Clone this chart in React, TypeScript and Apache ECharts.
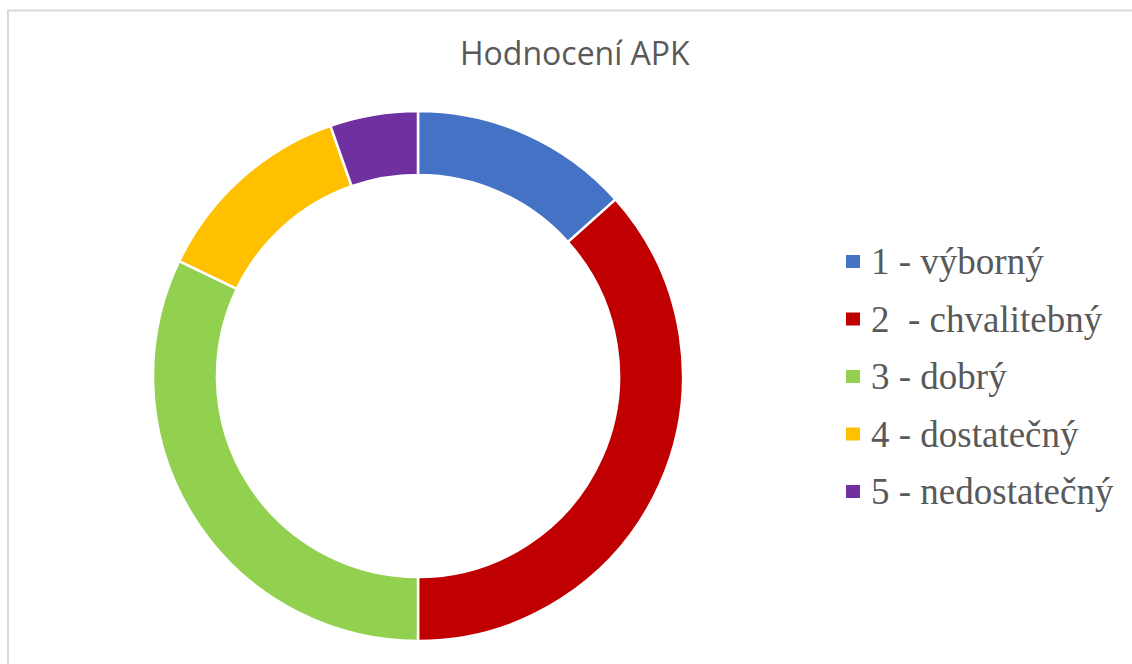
import React, { useEffect, useRef } from "react";
import * as echarts from "echarts";

const titleText = "Hodnocení APK";
const categories = ["1 - výborný", "2  - chvalitebný", "3 - dobrý", "4 - dostatečný", "5 - nedostatečný"];
const values = [15, 41, 36, 14, 6];
const colors = ["#4472C4", "#C00000", "#92D050", "#FFC000", "#7030A0"];

export default function App() {
  const ref = useRef<HTMLDivElement>(null);
  useEffect(() => {
    if (!ref.current) return;
    const chart = echarts.init(ref.current, undefined, { renderer: "svg" });
    chart.setOption({
      animation: false,
      backgroundColor: "#ffffff",
      title: {
        text: titleText,
        left: 455,
        top: 31,
        textStyle: {
          fontFamily: "Open Sans",
          fontSize: 32,
          fontWeight: "normal",
          color: "#595959",
        },
      },
      legend: {
        orient: "vertical",
        left: 839,
        top: 238,
        icon: "rect",
        itemWidth: 16,
        itemHeight: 15,
        itemGap: 20.5,
        selectedMode: false,
        data: categories,
        textStyle: {
          fontFamily: "Liberation Serif",
          fontSize: 37,
          lineHeight: 36,
          color: "#595959",
          padding: [0, 0, 0, 5],
        },
      },
      graphic: [
        {
          type: "rect",
          shape: { x: 8, y: 10.5, width: 1200, height: 800 },
          style: { fill: "none", stroke: "#d9d9d9", lineWidth: 2 },
          silent: true,
        },
      ],
      series: [
        {
          type: "pie",
          center: [418, 376],
          radius: [201, 265],
          startAngle: 90,
          clockwise: true,
          avoidLabelOverlap: false,
          label: { show: false },
          labelLine: { show: false },
          emphasis: { disabled: true },
          itemStyle: { borderColor: "#ffffff", borderWidth: 2.5 },
          data: categories.map((name, i) => ({
            name,
            value: values[i],
            itemStyle: { color: colors[i] },
          })),
        },
      ],
    });
    return () => chart.dispose();
  }, []);
  return (
    <div
      ref={ref}
      style={{ position: "absolute", left: 0, top: 0, width: 1132, height: 664 }}
    />
  );
}
